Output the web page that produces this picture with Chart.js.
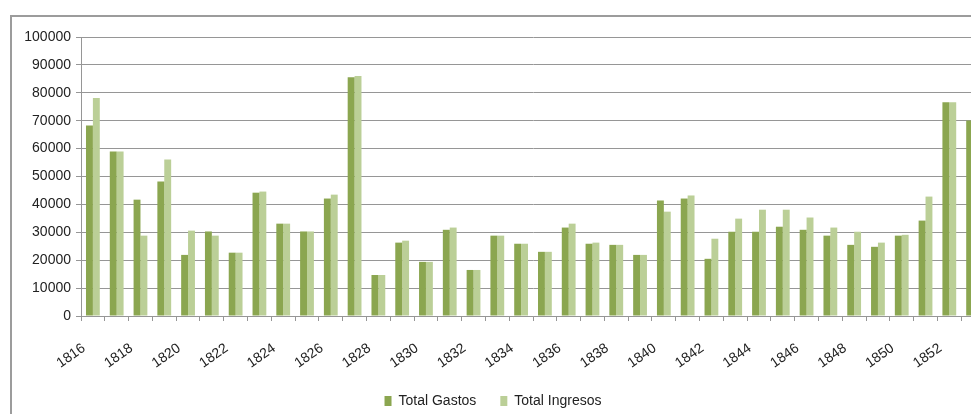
<!DOCTYPE html>
<html>
<head>
<meta charset="utf-8">
<script src="https://cdn.jsdelivr.net/npm/chart.js@4/dist/chart.umd.min.js"></script>
<style>
  html, body { margin: 0; padding: 0; background: #fff; overflow: hidden; }
  body { width: 971px; height: 414px; position: relative; }
  #frame { position: absolute; left: 10px; top: 15px; width: 1100px; height: 500px; border: 2px solid #9c9c9c; box-sizing: border-box; }
  #wrap { position: absolute; left: 1px; top: 16px; width: 989px; height: 402px; }
</style>
</head>
<body>
<div id="frame"></div>
<div id="wrap"><canvas id="chart"></canvas></div>
<script>
const years = [1816, 1817, 1818, 1819, 1820, 1821, 1822, 1823, 1824, 1825, 1826, 1827, 1828, 1829, 1830, 1831, 1832, 1833, 1834,
  1835, 1836, 1837, 1838, 1839, 1840, 1841, 1842, 1843, 1844, 1845, 1846, 1847, 1848, 1849, 1850, 1851, 1852, 1853];
const totalGastos = [68300, 59000, 41700, 48200, 21900, 30300, 22700, 44200, 33100, 30300, 42100, 85600, 14700, 26300, 19400, 30900, 16500, 28800, 25900,
  23000, 31700, 25900, 25500, 21900, 41400, 42100, 20500, 30200, 30200, 32000, 30900, 28800, 25500, 24800, 28800, 34200, 76600, 70100];
const totalIngresos = [78100, 59000, 28800, 56100, 30600, 28800, 22700, 44600, 33100, 30300, 43500, 86000, 14700, 27000, 19400, 31700, 16500, 28800, 25900,
  23000, 33100, 26300, 25500, 21900, 37400, 43200, 27700, 34900, 38100, 38100, 35300, 31700, 30200, 26300, 29100, 42800, 76600, null];
const yTicks = [0, 10000, 20000, 30000, 40000, 50000, 60000, 70000, 80000, 90000, 100000];

const font = { family: '"Liberation Sans", Arial, sans-serif', size: 14 };
const gridColor = '#969696';

new Chart(document.getElementById('chart'), {
  type: 'bar',
  data: {
    labels: years.map(String),
    datasets: [
      { label: 'Total Gastos', data: totalGastos, backgroundColor: '#8ba650', categoryPercentage: 0.58, barPercentage: 1.0 },
      { label: 'Total Ingresos', data: totalIngresos, backgroundColor: '#bbcf97', categoryPercentage: 0.58, barPercentage: 1.0 }
    ]
  },
  options: {
    responsive: true,
    maintainAspectRatio: false,
    animation: false,
    layout: { padding: { top: 21, right: 5, bottom: 0, left: 0 } },
    plugins: {
      tooltip: { enabled: false },
      legend: {
        position: 'bottom',
        labels: { font: font, color: '#222', boxWidth: 7, boxHeight: 10, padding: 24 }
      }
    },
    scales: {
      x: {
        offset: true,
        grid: { display: true, drawOnChartArea: false, tickLength: 5, color: gridColor, offset: true },
        border: { color: gridColor },
        ticks: {
          autoSkip: false,
          maxRotation: 35,
          minRotation: 35,
          padding: 19,
          font: font,
          color: '#222',
          labelOffset: -9,
          callback: function (v, i) { return i % 2 === 0 ? this.getLabelForValue(v) : ''; }
        },
        afterFit: function (axis) {
          axis.height = 54;
          axis.paddingLeft = 0;
          axis.paddingRight = 0;
        }
      },
      y: {
        min: yTicks[0],
        max: yTicks[yTicks.length - 1],
        afterBuildTicks: function (axis) { axis.ticks = yTicks.map(v => ({ value: v })); },
        grid: { color: gridColor, tickLength: 5 },
        border: { color: gridColor },
        ticks: { font: font, color: '#222', padding: 5, callback: v => String(v) },
        afterFit: function (axis) { axis.width = 80; }
      }
    }
  }
});
</script>
</body>
</html>
